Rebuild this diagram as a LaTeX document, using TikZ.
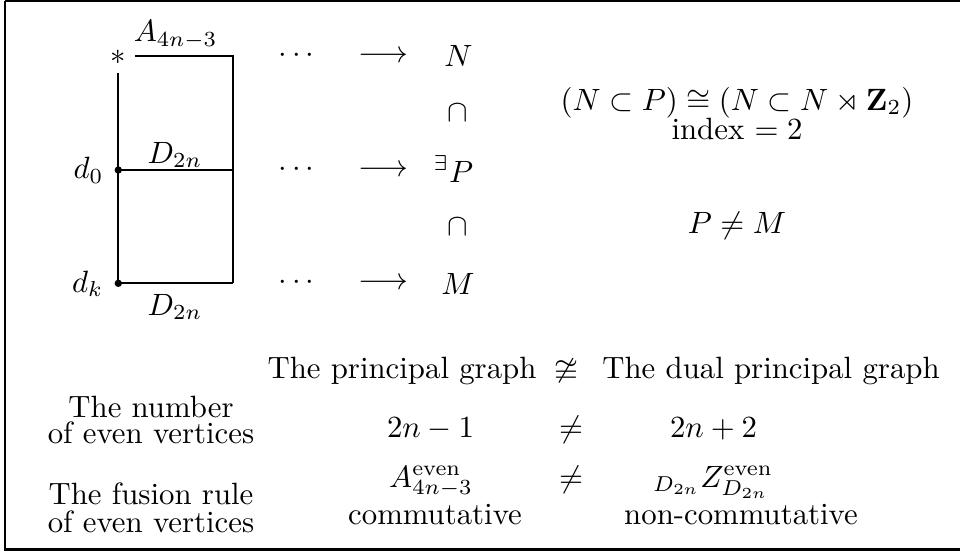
\documentclass[tikz,border=0pt]{standalone}
\usepackage{amsmath,amssymb}
\usetikzlibrary{calc}
\begin{document}
\begin{tikzpicture}[x=0.3247pt,y=-0.3247pt,
  edge/.style={line width=0.6pt},
  vdot/.style={circle,fill=black,inner sep=0pt,minimum size=2.4pt},
  lbl/.style={inner sep=0pt,anchor=base}]
\useasboundingbox (0,0) rectangle (960,551);
\draw[line width=0.7pt] (5,1) -- (975,1) (5,1) -- (5,549.5) -- (975,549.5);
% graph
\node[lbl] (star) at (118.3,64.4) {$*$};
\coordinate (tl) at (135,55.6);
\coordinate (tr) at (233,55.6);
\coordinate (lt) at (118.3,72.7);
\node[vdot] (d0) at (118.3,170) {};
\node[vdot] (dk) at (118.3,283.3) {};
\coordinate (mr) at (233,170);
\coordinate (br) at (233,283.3);
\draw[edge] (tl) -- (tr) -- (br);
\draw[edge] (lt) -- (d0.center) -- (dk.center) -- (br);
\draw[edge] (d0.center) -- (mr);
\node[lbl] (a) at (175.7,41.7) {$A_{4n-3}$};
\node[lbl] (dm) at (175,163.3) {$D_{2n}$};
\node[lbl] (db) at (175,315) {$D_{2n}$};
\node[lbl,anchor=base east] (l0) at (104,178.5) {$d_0$};
\node[lbl,anchor=base east] (lk) at (104,292) {$d_k$};
% chain
\node[lbl] (c1) at (299,62.7) {$\cdots$};
\node[lbl] (c2) at (299,176) {$\cdots$};
\node[lbl] (c3) at (299,289.4) {$\cdots$};
\node[lbl] (r1) at (383,62.7) {$\longrightarrow$};
\node[lbl] (r2) at (383,176) {$\longrightarrow$};
\node[lbl] (r3) at (383,289.4) {$\longrightarrow$};
\node[lbl] (N) at (458.5,66.7) {$N$};
\node[lbl] (i1) at (458,121.7) {$\cap$};
\node[lbl] (P) at (453.5,182) {${}^{\exists}P$};
\node[lbl] (i2) at (458,235) {$\cap$};
\node[lbl] (M) at (458,294) {$M$};
% right
\node[lbl] (iso) at (737,110) {$(N\subset P)\cong(N\subset N\rtimes\mathbf{Z}_2)$};
\node[lbl] (idx) at (737,139) {index $=2$};
\node[lbl] (pm) at (737,233) {$P\neq M$};
% table
\node[lbl] (h1) at (402,378) {The principal graph};
\node[lbl] (h2) at (566,378) {$\ncong$};
\node[lbl] (h3) at (771,378) {The dual principal graph};
\node[lbl] (L1a) at (151,417) {The number};
\node[lbl] (L1b) at (151,443) {of even vertices};
\node[lbl] (n1) at (430.5,437) {$2n-1$};
\node[lbl] (n2) at (571,437) {$\neq$};
\node[lbl] (n3) at (713.5,437) {$2n+2$};
\node[lbl] (L2a) at (151,504) {The fusion rule};
\node[lbl] (L2b) at (151,532) {of even vertices};
\node[lbl] (f1) at (431,487) {$A_{4n-3}^{\text{even}}$};
\node[lbl] (f2) at (571,487) {$\neq$};
\node[lbl] (f3) at (713,487) {${}_{D_{2n}}Z_{D_{2n}}^{\text{even}}$};
\node[lbl] (g1) at (435,524) {commutative};
\node[lbl] (g3) at (741,524) {non-commutative};
\end{tikzpicture}
\end{document}
